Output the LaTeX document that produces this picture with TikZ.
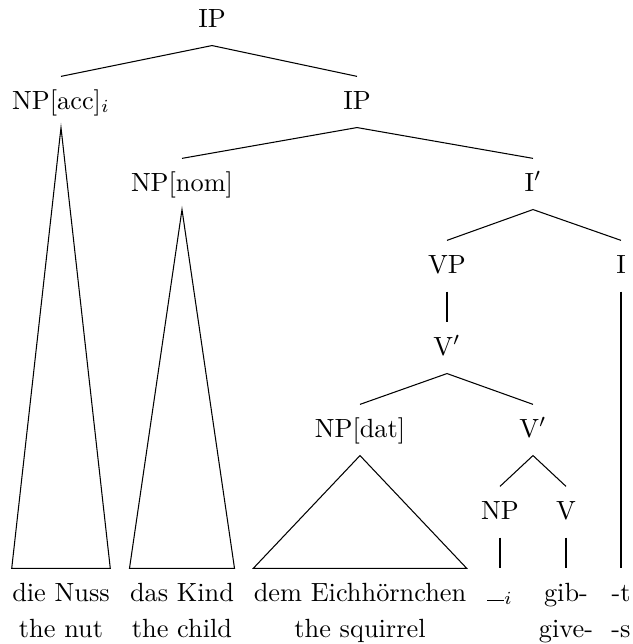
\documentclass[tikz,border=0pt]{standalone}
\begin{document}
\begin{tikzpicture}[x=0.38pt,y=-0.38pt,
  lab/.style={anchor=base, text height=8pt, text depth=2.65pt, inner ysep=4.2pt, inner xsep=0pt},
  gl/.style={anchor=base, inner sep=0pt},
  edge/.style={draw=black, line width=0.4pt}]
\useasboundingbox (0,0) rectangle (633,644);
% tree labels
\node[lab] (ip1) at (212,27) {IP};
\node[lab] (npacc) at (61,109) {NP[acc]$_i$};
\node[lab] (ip2) at (357,109) {IP};
\node[lab] (npnom) at (182,191) {NP[nom]};
\node[lab] (ibar) at (533,191) {I$'$};
\node[lab] (vp) at (447,273) {VP};
\node[lab] (i) at (621,273) {I};
\node[lab] (vbar1) at (447,355) {V$'$};
\node[lab] (npdat) at (360,437) {NP[dat]};
\node[lab] (vbar2) at (533,437) {V$'$};
\node[lab] (np) at (500,519) {NP};
\node[lab] (v) at (566,519) {V};
% leaves
\node[lab] (nuss) at (61,601) {die Nuss};
\node[lab] (kind) at (182,601) {das Kind};
\node[lab] (eich) at (360,601) {dem Eichhörnchen};
\node[lab] (trace) at (500,601) {\rule{6.5pt}{0.4pt}$_i$};
\node[lab] (gib) at (566,601) {gib-};
\node[lab] (t) at (621,601) {-t};
% glosses
\node[gl] (g1) at (61,637) {the nut};
\node[gl] (g2) at (182,637) {the child};
\node[gl] (g3) at (360,637) {the squirrel};
\node[gl] (g4) at (566,637) {give-};
\node[gl] (g5) at (621,637) {-s};
% edges
\draw[edge] (npacc.north) -- (ip1.south) -- (ip2.north);
\draw[edge] (npnom.north) -- (ip2.south) -- (ibar.north);
\draw[edge] (vp.north) -- (ibar.south) -- (i.north);
\draw[edge] (vp.south) -- (vbar1.north);
\draw[edge] (npdat.north) -- (vbar1.south) -- (vbar2.north);
\draw[edge] (np.north) -- (vbar2.south) -- (v.north);
\draw[edge] (np.south) -- (trace.north);
\draw[edge] (v.south) -- (gib.north);
\draw[edge] (i.south) -- (t.north);
% triangles
\draw[edge] (npacc.south) -- (nuss.north west) -- (nuss.north east) -- cycle;
\draw[edge] (npnom.south) -- (kind.north west) -- (kind.north east) -- cycle;
\draw[edge] (npdat.south) -- (eich.north west) -- (eich.north east) -- cycle;
\end{tikzpicture}
\end{document}
